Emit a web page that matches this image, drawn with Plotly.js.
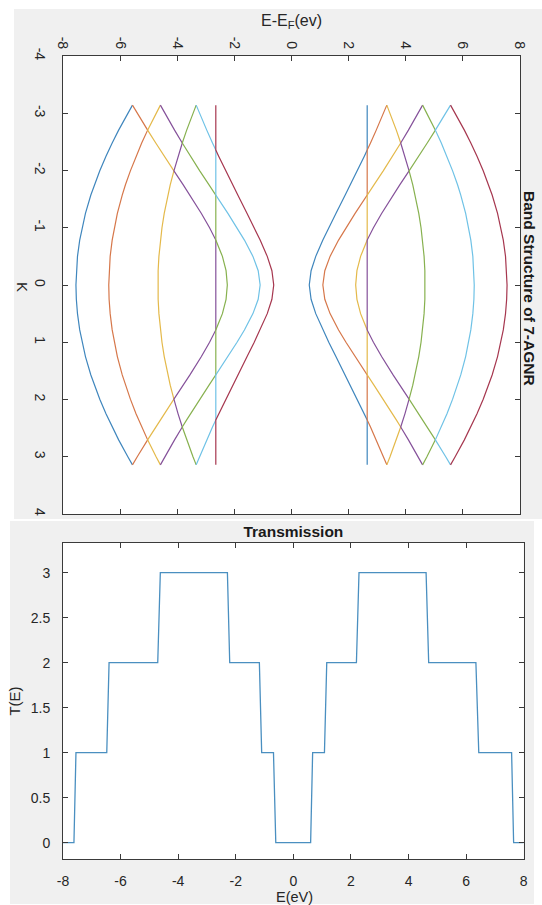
<!DOCTYPE html>
<html>
<head>
<meta charset="utf-8">
<script src="https://cdn.plot.ly/plotly-3.0.1.min.js"></script>
<style>
  html, body { margin: 0; padding: 0; background: #ffffff; }
  #chart { width: 542px; height: 905px; }
</style>
</head>
<body>
<div id="chart"></div>
<script>
// ---------- Band structure data (K in 1/a, energies in eV) ----------
const kPoints = [-3.1416, -3.0, -2.705, -2.481, -2.356, -2.25, -1.994, -1.75, -1.571, -1.25, -1.0, -0.785, -0.5, -0.25, 0, 0.25, 0.5, 0.785, 1.0, 1.25, 1.571, 1.75, 1.994, 2.25, 2.356, 2.481, 2.705, 3.0, 3.1416];

const band01 = [-5.568, -5.730, -6.052, -6.278, -6.398, -6.495, -6.712, -6.902, -7.025, -7.214, -7.333, -7.415, -7.493, -7.533, -7.547, -7.533, -7.493, -7.415, -7.333, -7.214, -7.025, -6.902, -6.712, -6.495, -6.398, -6.278, -6.052, -5.730, -5.568];
const band02 = [-5.568, -5.400, -5.037, -5.245, -5.354, -5.444, -5.641, -5.814, -5.926, -6.097, -6.205, -6.278, -6.349, -6.386, -6.398, -6.386, -6.349, -6.278, -6.205, -6.097, -5.926, -5.814, -5.641, -5.444, -5.354, -5.245, -5.037, -5.400, -5.568];
const band03 = [-4.590, -4.741, -5.037, -4.752, -4.590, -4.451, -4.117, -4.246, -4.329, -4.456, -4.535, -4.590, -4.642, -4.669, -4.678, -4.669, -4.642, -4.590, -4.535, -4.456, -4.329, -4.246, -4.117, -4.451, -4.590, -4.752, -5.037, -4.741, -4.590];
const band04 = [-4.590, -4.434, -4.094, -3.824, -3.905, -3.971, -4.117, -3.790, -3.556, -3.155, -2.868, -2.65, -2.65, -2.65, -2.65, -2.65, -2.65, -2.65, -2.868, -3.155, -3.556, -3.790, -4.117, -3.971, -3.905, -3.824, -4.094, -4.434, -4.590];
const band05 = [-3.337, -3.449, -3.670, -3.824, -3.670, -3.536, -3.212, -2.887, -2.65, -2.65, -2.65, -2.65, -2.419, -2.291, -2.247, -2.291, -2.419, -2.65, -2.65, -2.65, -2.65, -2.887, -3.212, -3.536, -3.670, -3.824, -3.670, -3.449, -3.337];
const band06 = [-3.337, -3.221, -2.967, -2.766, -2.65, -2.65, -2.65, -2.65, -2.65, -2.227, -1.907, -1.648, -1.350, -1.166, -1.098, -1.166, -1.350, -1.648, -1.907, -2.227, -2.65, -2.65, -2.65, -2.65, -2.65, -2.766, -2.967, -3.221, -3.337];
const band07 = [-2.65, -2.65, -2.65, -2.65, -2.65, -2.550, -2.306, -2.061, -1.880, -1.555, -1.305, -1.098, -0.849, -0.686, -0.622, -0.686, -0.849, -1.098, -1.305, -1.555, -1.880, -2.061, -2.306, -2.550, -2.65, -2.65, -2.65, -2.65, -2.65];
const band08 = [2.65, 2.65, 2.65, 2.65, 2.65, 2.550, 2.306, 2.061, 1.880, 1.555, 1.305, 1.098, 0.849, 0.686, 0.622, 0.686, 0.849, 1.098, 1.305, 1.555, 1.880, 2.061, 2.306, 2.550, 2.65, 2.65, 2.65, 2.65, 2.65];
const band09 = [3.337, 3.221, 2.967, 2.766, 2.65, 2.65, 2.65, 2.65, 2.65, 2.227, 1.907, 1.648, 1.350, 1.166, 1.098, 1.166, 1.350, 1.648, 1.907, 2.227, 2.65, 2.65, 2.65, 2.65, 2.65, 2.766, 2.967, 3.221, 3.337];
const band10 = [3.337, 3.449, 3.670, 3.824, 3.670, 3.536, 3.212, 2.887, 2.65, 2.65, 2.65, 2.65, 2.419, 2.291, 2.247, 2.291, 2.419, 2.65, 2.65, 2.65, 2.65, 2.887, 3.212, 3.536, 3.670, 3.824, 3.670, 3.449, 3.337];
const band11 = [4.590, 4.434, 4.094, 3.824, 3.905, 3.971, 4.117, 3.790, 3.556, 3.155, 2.868, 2.65, 2.65, 2.65, 2.65, 2.65, 2.65, 2.65, 2.868, 3.155, 3.556, 3.790, 4.117, 3.971, 3.905, 3.824, 4.094, 4.434, 4.590];
const band12 = [4.590, 4.741, 5.037, 4.752, 4.590, 4.451, 4.117, 4.246, 4.329, 4.456, 4.535, 4.590, 4.642, 4.669, 4.678, 4.669, 4.642, 4.590, 4.535, 4.456, 4.329, 4.246, 4.117, 4.451, 4.590, 4.752, 5.037, 4.741, 4.590];
const band13 = [5.568, 5.400, 5.037, 5.245, 5.354, 5.444, 5.641, 5.814, 5.926, 6.097, 6.205, 6.278, 6.349, 6.386, 6.398, 6.386, 6.349, 6.278, 6.205, 6.097, 5.926, 5.814, 5.641, 5.444, 5.354, 5.245, 5.037, 5.400, 5.568];
const band14 = [5.568, 5.730, 6.052, 6.278, 6.398, 6.495, 6.712, 6.902, 7.025, 7.214, 7.333, 7.415, 7.493, 7.533, 7.547, 7.533, 7.493, 7.415, 7.333, 7.214, 7.025, 6.902, 6.712, 6.495, 6.398, 6.278, 6.052, 5.730, 5.568];

// ---------- Transmission data ----------
const transE = [-8, -7.62, -7.55, -6.48, -6.40, -4.71, -4.62, -2.29, -2.21, -1.18, -1.10, -0.69, -0.61, 0.60, 0.67, 1.08, 1.16, 2.19, 2.28, 4.61, 4.70, 6.34, 6.44, 7.58, 7.65, 8];
const transT = [0, 0, 1, 1, 2, 2, 3, 3, 2, 2, 1, 1, 0, 0, 1, 1, 2, 2, 3, 3, 2, 2, 1, 1, 0, 0];

// ---------- Tick labels ----------
const energyTickVals = [-8, -6, -4, -2, 0, 2, 4, 6, 8];
const energyTickText = ['-8', '-6', '-4', '-2', '0', '2', '4', '6', '8'];
const kTickVals = [-4, -3, -2, -1, 0, 1, 2, 3, 4];
const kTickText = ['-4', '-3', '-2', '-1', '0', '1', '2', '3', '4'];
const tTickVals = [0, 0.5, 1, 1.5, 2, 2.5, 3];
const tTickText = ['0', '0.5', '1', '1.5', '2', '2.5', '3'];

// ---------- Styling ----------
const lineColors = ['#3f86bd', '#d6774a', '#e4b94a', '#85519a', '#87b14f', '#6fc2e6', '#a6374f'];
const bands = [band01, band02, band03, band04, band05, band06, band07,
               band08, band09, band10, band11, band12, band13, band14];

const FONT = 'Liberation Sans, Arial, Helvetica, sans-serif';
const AXC = '#3a3a3a';

const traces = bands.map((b, i) => ({
  type: 'scatter', mode: 'lines',
  x: b, y: kPoints,
  xaxis: 'x', yaxis: 'y',
  line: { color: lineColors[i % 7], width: 1.2 },
  hoverinfo: 'skip'
}));

traces.push({
  type: 'scatter', mode: 'lines',
  x: transE, y: transT,
  xaxis: 'x2', yaxis: 'y2',
  line: { color: '#4a8fc0', width: 1.3 },
  hoverinfo: 'skip'
});

const axBase = {
  showgrid: false, zeroline: false,
  showline: true, linecolor: AXC, linewidth: 1,
  mirror: 'ticks', ticks: 'inside', ticklen: 5, tickcolor: AXC, tickwidth: 1,
  tickfont: { family: FONT, size: 14, color: '#262626' },
  fixedrange: true
};

const layout = {
  width: 542, height: 905,
  margin: { l: 0, r: 0, t: 0, b: 0 },
  paper_bgcolor: '#ffffff',
  plot_bgcolor: '#ffffff',
  showlegend: false,
  font: { family: FONT, color: '#262626' },
  title: {
    text: '<b>Transmission</b>',
    font: { family: FONT, size: 15.5, color: '#1a1a1a' },
    x: 0.5413, xref: 'paper', xanchor: 'center',
    y: 1 - 532 / 905, yref: 'paper', yanchor: 'middle'
  },
  xaxis: Object.assign({}, axBase, {
    domain: [63 / 542, 520 / 542], anchor: 'y', side: 'top',
    range: [-8, 8], tickmode: 'array', tickvals: energyTickVals, ticktext: energyTickText,
    tickangle: 90, ticklabelstandoff: 1,
    title: { text: 'E-E<sub>F</sub>(ev)', font: { family: FONT, size: 16, color: '#262626' }, standoff: 6 }
  }),
  yaxis: Object.assign({}, axBase, {
    domain: [1 - 514 / 905, 1 - 56 / 905], anchor: 'x',
    range: [4, -4], tickmode: 'array', tickvals: kTickVals, ticktext: kTickText,
    tickangle: 90, ticklabelstandoff: 10
  }),
  xaxis2: Object.assign({}, axBase, {
    domain: [63 / 542, 523.7 / 542], anchor: 'y2',
    range: [-8, 8], tickmode: 'array', tickvals: energyTickVals, ticktext: energyTickText,
    ticklabelstandoff: 9
  }),
  yaxis2: Object.assign({}, axBase, {
    domain: [1 - 859.3 / 905, 1 - 542.7 / 905], anchor: 'x2',
    range: [-0.185, 3.333], tickmode: 'array', tickvals: tTickVals, ticktext: tTickText,
    ticklabelstandoff: 9,
    title: { text: 'T(E)', font: { family: FONT, size: 15, color: '#262626' }, standoff: 6 }
  }),
  shapes: [
    { type: 'rect', xref: 'paper', yref: 'paper', layer: 'below',
      x0: 14 / 542, x1: 1, y0: 1 - 519 / 905, y1: 1 - 9 / 905,
      fillcolor: '#f0f0f0', line: { width: 0 } },
    { type: 'rect', xref: 'paper', yref: 'paper', layer: 'below',
      x0: 10 / 542, x1: 534 / 542, y0: 1 - 904 / 905, y1: 1 - 521 / 905,
      fillcolor: '#f0f0f0', line: { width: 0 } },
    { type: 'rect', xref: 'x domain', yref: 'y domain', layer: 'below',
      x0: 0, x1: 1, y0: 0, y1: 1, fillcolor: '#ffffff', line: { width: 0 } },
    { type: 'rect', xref: 'x2 domain', yref: 'y2 domain', layer: 'below',
      x0: 0, x1: 1, y0: 0, y1: 1, fillcolor: '#ffffff', line: { width: 0 } }
  ],
  annotations: [
    { text: 'K', xref: 'paper', yref: 'paper', x: 23 / 542, y: 1 - 287 / 905,
      xanchor: 'center', yanchor: 'middle', showarrow: false, textangle: 90,
      font: { family: FONT, size: 15, color: '#262626' } },
    { text: '<b>Band Structure of 7-AGNR</b>', xref: 'paper', yref: 'paper',
      x: 530 / 542, y: 1 - 288 / 905, xanchor: 'center', yanchor: 'middle',
      showarrow: false, textangle: 90,
      font: { family: FONT, size: 15.5, color: '#1a1a1a' } },
    { text: 'E(eV)', xref: 'paper', yref: 'paper', x: 294 / 542, y: 1 - 897 / 905,
      xanchor: 'center', yanchor: 'middle', showarrow: false, borderpad: 0,
      font: { family: FONT, size: 14.5, color: '#262626' } }
  ]
};

Plotly.newPlot('chart', traces, layout, { displayModeBar: false, staticPlot: true });
</script>
</body>
</html>
